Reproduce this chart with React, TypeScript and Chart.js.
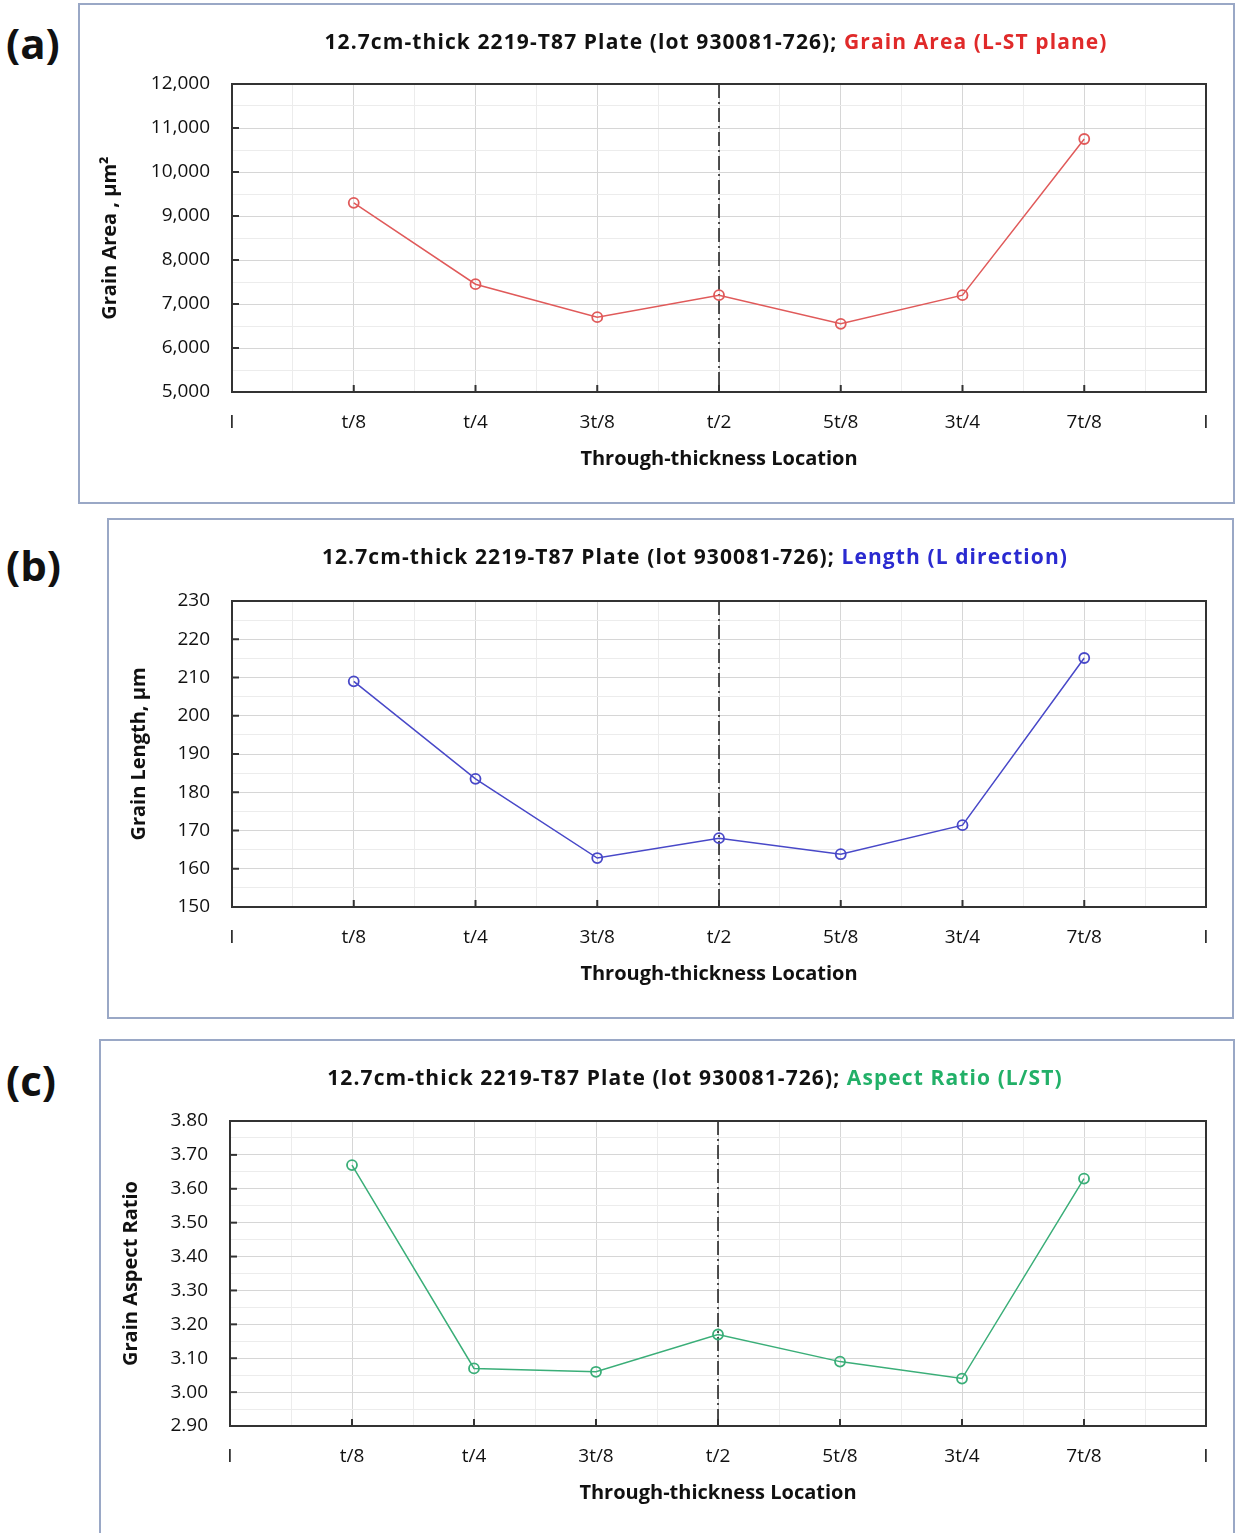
import React, { useEffect, useRef } from "react";
import { Chart, registerables } from "chart.js";

Chart.register(...registerables);

// ---------- data ----------
const xTickLabels = ["I", "t/8", "t/4", "3t/8", "t/2", "5t/8", "3t/4", "7t/8", "I"];
const xPositions = [1, 2, 3, 4, 5, 6, 7];
const grainArea = [9300, 7450, 6700, 7200, 6550, 7200, 10750];
const grainLength = [209, 183.5, 162.8, 168, 163.8, 171.4, 215.1];
const aspectRatio = [3.67, 3.07, 3.06, 3.17, 3.09, 3.04, 3.63];
const titleBase = "12.7cm-thick 2219-T87 Plate (lot 930081-726); ";
const xAxisTitle = "Through-thickness Location";
const midPlaneValue = 4;

const FONT = "'Open Sans', Lato, 'DejaVu Sans', sans-serif";

type Rect = { l: number; t: number; r: number; b: number };

type PanelSpec = {
  label: string;
  labelY: number;
  box: Rect;
  plot: Rect;
  titleColored: string;
  titleColor: string;
  titleCenter: [number, number];
  yTitle: string;
  yMin: number;
  yMax: number;
  yStep: number;
  yFormat: (v: number) => string;
  values: number[];
  lineColor: string;
};

const framePlugin = {
  id: "frameAndMid",
  beforeDatasetsDraw(chart: any) {
    const { ctx, chartArea: a, scales } = chart;
    const px = scales.x.getPixelForValue(midPlaneValue);
    ctx.save();
    ctx.strokeStyle = "#1a1a1a";
    ctx.lineWidth = 1.5;
    ctx.setLineDash([14, 4, 2, 4]);
    ctx.beginPath();
    ctx.moveTo(px, a.top);
    ctx.lineTo(px, a.bottom);
    ctx.stroke();
    ctx.restore();
  },
  afterDraw(chart: any) {
    const { ctx, chartArea: a, scales } = chart;
    ctx.save();
    ctx.strokeStyle = "#333333";
    ctx.lineWidth = 2;
    ctx.strokeRect(a.left, a.top, a.right - a.left, a.bottom - a.top);
    scales.x.ticks.forEach((t: any) => {
      if (t.value % 1 === 0 && t.value > 0 && t.value < 8) {
        const x = scales.x.getPixelForValue(t.value);
        ctx.beginPath();
        ctx.moveTo(x, a.bottom);
        ctx.lineTo(x, a.bottom - 7);
        ctx.stroke();
      }
    });
    scales.y.ticks.forEach((t: any, i: number) => {
      if (i % 2 === 0 && i > 0 && i < scales.y.ticks.length - 1) {
        const y = scales.y.getPixelForValue(t.value);
        ctx.beginPath();
        ctx.moveTo(a.left, y);
        ctx.lineTo(a.left + 7, y);
        ctx.stroke();
      }
    });
    ctx.restore();
  },
};

const panels: PanelSpec[] = [
  {
    label: "(a)",
    labelY: 43,
    box: { l: 78, t: 3, r: 1235, b: 504 },
    plot: { l: 232, t: 84, r: 1206, b: 392 },
    titleColored: "Grain Area (L-ST plane)",
    titleColor: "#e02a2a",
    titleCenter: [716, 41],
    yTitle: "Grain Area , µm²",
    yMin: 5000,
    yMax: 12000,
    yStep: 500,
    yFormat: (v) => v.toLocaleString("en-US"),
    values: grainArea,
    lineColor: "#e05a5a",
  },
  {
    label: "(b)",
    labelY: 565,
    box: { l: 107, t: 518, r: 1234, b: 1019 },
    plot: { l: 232, t: 601, r: 1206, b: 907 },
    titleColored: "Length (L direction)",
    titleColor: "#2a2ad0",
    titleCenter: [695, 556],
    yTitle: "Grain Length, µm",
    yMin: 150,
    yMax: 230,
    yStep: 5,
    yFormat: (v) => String(Math.round(v)),
    values: grainLength,
    lineColor: "#4848c8",
  },
  {
    label: "(c)",
    labelY: 1080,
    box: { l: 99, t: 1039, r: 1235, b: 1545 },
    plot: { l: 230, t: 1121, r: 1206, b: 1426 },
    titleColored: "Aspect Ratio (L/ST)",
    titleColor: "#22b068",
    titleCenter: [695, 1077],
    yTitle: "Grain Aspect Ratio",
    yMin: 2.9,
    yMax: 3.8,
    yStep: 0.05,
    yFormat: (v) => v.toFixed(2),
    values: aspectRatio,
    lineColor: "#3aae78",
  },
];

const X_SCALE_HEIGHT = 109;

function Panel({ p }: { p: PanelSpec }) {
  const ref = useRef<HTMLCanvasElement | null>(null);
  const cL = p.box.l + 2;
  const cT = p.box.t + 2;
  const cW = p.box.r - p.box.l - 4;
  const cH = p.box.b - p.box.t - 4;

  useEffect(() => {
    if (!ref.current) return;
    const padTop = p.plot.t - cT;
    const padRight = cL + cW - p.plot.r;
    const padBottom = cH - (p.plot.b - cT) - X_SCALE_HEIGHT;
    const yWidth = p.plot.l - cL;
    const chart = new Chart(ref.current, {
      type: "line",
      data: {
        datasets: [
          {
            data: xPositions.map((x, i) => ({ x, y: p.values[i] })),
            borderColor: p.lineColor,
            borderWidth: 1.5,
            pointRadius: 5,
            pointBorderWidth: 1.8,
            pointBackgroundColor: "rgba(255,255,255,0)",
            pointBorderColor: p.lineColor,
            tension: 0,
            fill: false,
          },
        ],
      },
      options: {
        animation: false,
        responsive: false,
        devicePixelRatio: 1,
        layout: { padding: { top: padTop, right: padRight, bottom: padBottom, left: 0 } },
        plugins: { legend: { display: false }, tooltip: { enabled: false }, title: { display: false } },
        scales: {
          x: {
            type: "linear",
            min: 0,
            max: 8,
            afterFit: (s: any) => {
              s.height = X_SCALE_HEIGHT;
            },
            afterBuildTicks: (s: any) => {
              const t = [];
              for (let v = 0; v <= 16; v++) t.push({ value: v / 2 });
              s.ticks = t;
            },
            ticks: {
              autoSkip: false,
              maxRotation: 0,
              padding: 19,
              color: "#111",
              font: { family: FONT, size: 19 },
              callback: (v: any) => (Number(v) % 1 === 0 ? xTickLabels[Number(v)] : ""),
            },
            grid: {
              drawTicks: false,
              color: (c: any) => (c.tick && c.tick.value % 1 === 0 ? "#d6d6d6" : "#ececec"),
              lineWidth: 1,
            },
            border: { display: false },
            title: {
              display: true,
              text: xAxisTitle,
              color: "#111",
              font: { family: FONT, size: 20, weight: "bold" },
              padding: { top: 0, bottom: 30 },
            },
          },
          y: {
            type: "linear",
            min: p.yMin,
            max: p.yMax,
            afterFit: (s: any) => {
              s.width = yWidth;
            },
            ticks: {
              stepSize: p.yStep,
              autoSkip: false,
              padding: 22,
              color: "#111",
              font: { family: FONT, size: 19 },
              callback: (v: any, i: number) => (i % 2 === 0 ? p.yFormat(Number(v)) : ""),
            },
            grid: {
              drawTicks: false,
              color: (c: any) => (c.index % 2 === 0 ? "#d6d6d6" : "#ececec"),
              lineWidth: 1,
            },
            border: { display: false },
            title: {
              display: true,
              text: p.yTitle,
              color: "#111",
              font: { family: FONT, size: 20, weight: "bold" },
              padding: { top: 18, bottom: 0 },
            },
          },
        },
      },
      plugins: [framePlugin],
    } as any);
    return () => chart.destroy();
  }, []);

  return (
    <>
      <div
        style={{
          position: "absolute",
          left: p.box.l,
          top: p.box.t,
          width: p.box.r - p.box.l,
          height: p.box.b - p.box.t,
          boxSizing: "border-box",
          border: "2px solid #9aa8c6",
          background: "#fff",
        }}
      />
      <canvas
        ref={ref}
        width={cW}
        height={cH}
        style={{ position: "absolute", left: cL, top: cT, width: cW, height: cH }}
      />
      <div
        style={{
          position: "absolute",
          left: p.titleCenter[0],
          top: p.titleCenter[1] - 15,
          transform: "translateX(-50%)",
          whiteSpace: "nowrap",
          fontFamily: FONT,
          fontWeight: "bold",
          fontSize: 21,
          letterSpacing: "1.1px",
          lineHeight: "30px",
          color: "#111",
        }}
      >
        {titleBase}
        <span style={{ color: p.titleColor }}>{p.titleColored}</span>
      </div>
      <div
        style={{
          position: "absolute",
          left: 6,
          top: p.labelY - 29,
          fontFamily: FONT,
          fontWeight: "bold",
          fontSize: 42,
          lineHeight: "58px",
          color: "#111",
        }}
      >
        {p.label}
      </div>
    </>
  );
}

export default function App() {
  return (
    <div
      style={{
        position: "absolute",
        left: 0,
        top: 0,
        width: 1236,
        height: 1533,
        overflow: "hidden",
        background: "#fff",
      }}
    >
      {panels.map((p) => (
        <Panel key={p.label} p={p} />
      ))}
    </div>
  );
}
